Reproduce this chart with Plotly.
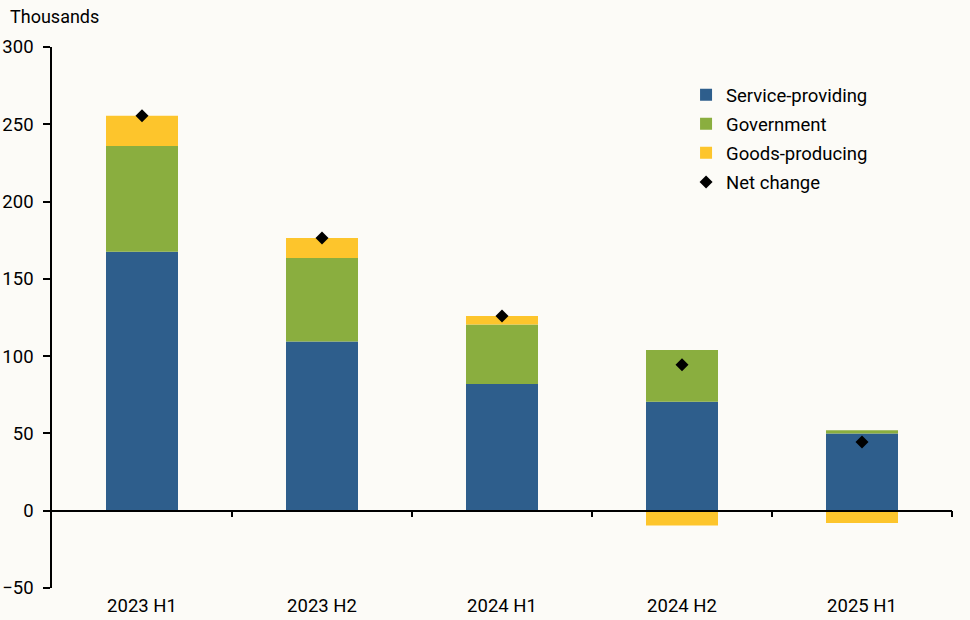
import plotly.graph_objects as go

categories = ["2023 H1", "2023 H2", "2024 H1", "2024 H2", "2025 H1"]
service = [167.5, 109.5, 82.0, 70.5, 50.0]
government = [68.5, 54.0, 38.5, 33.5, 2.0]
goods = [19.5, 13.0, 5.5, -9.5, -8.0]
net_change = [255.5, 176.5, 126.0, 94.5, 44.5]
y_ticks = [-50, 0, 50, 100, 150, 200, 250, 300]

BG = "#fcfbf7"
FONT = "Roboto"
TXT = "#000000"
xpos = list(range(len(categories)))

fig = go.Figure()
fig.add_trace(go.Bar(x=xpos, y=service, name="Service-providing", legendgroup="a",
                     marker=dict(color="#2e5e8c", line=dict(width=0)), width=0.4))
fig.add_trace(go.Bar(x=xpos, y=government, name="Government", legendgroup="b",
                     marker=dict(color="#8aae3f", line=dict(width=0)), width=0.4))
fig.add_trace(go.Bar(x=xpos, y=goods, name="Goods-producing", legendgroup="c",
                     marker=dict(color="#fdc52c", line=dict(width=0)), width=0.4))
fig.add_trace(go.Scatter(x=xpos, y=net_change, name="Net change", mode="markers",
                         legendgroup="d",
                         marker=dict(symbol="diamond", size=10, color="black")))
# dummy trace to host zero-line axis
fig.add_trace(go.Scatter(x=[0], y=[0], xaxis="x2", mode="markers",
                         marker=dict(opacity=0), showlegend=False, hoverinfo="skip"))

fig.update_layout(
    width=970, height=620,
    margin=dict(l=52, r=18, t=47, b=32, autoexpand=False),
    paper_bgcolor=BG, plot_bgcolor=BG,
    barmode="relative",
    font=dict(family=FONT, size=18.5, color=TXT),
    showlegend=True,
    legend=dict(x=0.7045, y=0.946, xanchor="left", yanchor="top",
                bgcolor="rgba(0,0,0,0)", font=dict(size=18.5, color=TXT),
                traceorder="grouped", tracegroupgap=2, itemwidth=30),
    hovermode=False,
    xaxis=dict(range=[-0.5, len(categories) - 0.5], tickvals=xpos, ticktext=categories,
               showline=False, ticks="", showgrid=False, zeroline=False,
               tickfont=dict(size=18.5, color=TXT), ticklabelstandoff=4, automargin=False),
    xaxis2=dict(range=[-0.5, len(categories) - 0.5], overlaying="x", anchor="free",
                position=50 / 350, side="bottom",
                tickvals=[i + 0.5 for i in xpos], showticklabels=False,
                ticks="outside", ticklen=6, tickcolor="black", tickwidth=1.5,
                showline=True, linecolor="black", linewidth=1.5,
                showgrid=False, zeroline=False, automargin=False),
    yaxis=dict(range=[-50, 300], tickvals=y_ticks, showline=True, linecolor="black",
               linewidth=1.5, ticks="outside", ticklen=7, tickcolor="black",
               tickwidth=1.5, showgrid=False, zeroline=False,
               tickfont=dict(size=18.5, color=TXT), ticklabelstandoff=6, automargin=False),
    annotations=[dict(text="Thousands", xref="paper", yref="paper",
                      x=(8 - 52) / 900, y=(588 - 17) / 541, xanchor="left",
                      yanchor="middle", showarrow=False, font=dict(size=18, color=TXT))],
)

fig.write_html("out.html", config={"displayModeBar": False},
               post_script="document.body.style.margin='0';")
